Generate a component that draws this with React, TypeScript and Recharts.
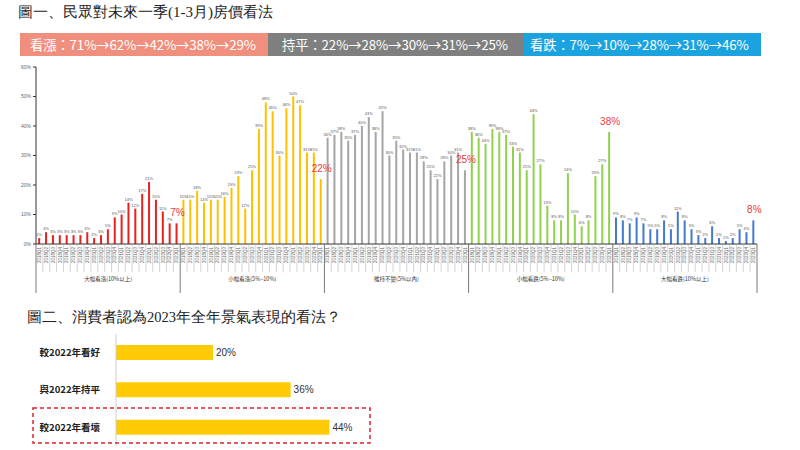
import React from 'react';
import { BarChart, Bar, XAxis, YAxis, Cell, LabelList } from 'recharts';

// ---------- data ----------
const groupNames = ['大幅看漲(10%以上)', '小幅看漲(5%~10%)', '維持不變(5%以內)', '小幅看跌(5%~10%)', '大幅看跌(10%以上)'];
const periods = [
  '2018Q1', '2018Q2', '2018Q3', '2018Q4', '2019Q1', '2019Q2', '2019Q3', '2019Q4',
  '2020Q1', '2020Q2', '2020Q3', '2020Q4', '2021Q1', '2021Q2', '2021Q3', '2021Q4',
  '2022Q1', '2022Q2', '2022Q3', '2022Q4', '2023Q1',
];
const bigRise = [2, 4, 3, 3, 3, 3, 3, 4, 2, 3, 5, 9, 10, 14, 12, 17, 21, 15, 11, 7, 7];
const smallRise = [15, 15, 18, 14, 15, 15, 16, 19, 23, 12, 25, 39, 48, 45, 30, 46, 50, 47, 31, 31, 22];
const flat = [36, 37, 38, 35, 37, 40, 43, 38, 45, 30, 35, 32, 31, 31, 28, 25, 22, 28, 30, 31, 25];
const smallFall = [38, 36, 34, 39, 38, 37, 33, 31, 25, 44, 27, 13, 8, 8, 24, 10, 6, 8, 23, 27, 38];
const bigFall = [9, 8, 7, 9, 7, 5, 5, 8, 5, 11, 8, 5, 3, 2, 6, 2, 1, 2, 5, 4, 8];
const groupValues = [bigRise, smallRise, flat, smallFall, bigFall];
const groupColors = ['#E8201E', '#FFC000', '#A5A5A5', '#92D050', '#4479CC'];

const riseTrend = [71, 62, 42, 38, 29];
const flatTrend = [22, 28, 30, 31, 25];
const fallTrend = [7, 10, 28, 31, 46];

const outlookLabels = ['較2022年看好', '與2022年持平', '較2022年看壞'];
const outlookValues = [20, 36, 44];

// ---------- derived tables ----------
const houseData = groupValues.flatMap((vals, g) =>
  vals.map((v, p) => ({ key: `${g}|${p}`, value: v, group: g, period: p }))
);
const outlookData = outlookLabels.map((label, i) => ({ label, value: outlookValues[i] }));

const CHART_W = 800;
const PLOT_LEFT = 36;
const RIGHT_MARGIN = 43;
const BAND = (CHART_W - PLOT_LEFT - RIGHT_MARGIN) / houseData.length;
const PER_GROUP = periods.length;

function PeriodTick(props: any) {
  const { x, y, payload } = props;
  const [gs, ps] = String(payload.value).split('|');
  const g = +gs;
  const p = +ps;
  const half = BAND / 2;
  const isLastAll = g === groupNames.length - 1 && p === PER_GROUP - 1;
  return (
    <g>
      <line x1={x - half} x2={x - half} y1={y} y2={y + (p === 0 ? 49 : 28)}
        stroke={p === 0 ? '#555' : '#aaa'} strokeWidth={p === 0 ? 0.8 : 0.5} />
      {isLastAll && (
        <line x1={x + half} x2={x + half} y1={y} y2={y + 49} stroke="#555" strokeWidth={0.8} />
      )}
      <text x={x} y={y + 3} transform={`rotate(-90 ${x} ${y + 3})`} textAnchor="end"
        dominantBaseline="central" fontSize={4.5} fill="#666" fontFamily="Liberation Sans">
        {periods[p]}
      </text>
      {p === Math.floor(PER_GROUP / 2) && (
        <text x={x} y={y + 37} textAnchor="middle" fontSize={5.5} fill="#333"
          fontFamily='"Noto Sans CJK TC"'>
          {groupNames[g]}
        </text>
      )}
    </g>
  );
}

function BarValueLabel(props: any) {
  const { x, y, width, value, index } = props;
  const isLast = index % PER_GROUP === PER_GROUP - 1;
  return (
    <text x={x + width / 2 + (isLast ? 1 : 0)} y={y - (isLast ? 7 : 2)} textAnchor="middle"
      fontSize={isLast ? 10 : 4} fill={isLast ? '#EE3B3B' : '#555'}
      fontFamily="Liberation Sans">
      {value}%
    </text>
  );
}

const trendText = (arr: number[]) => arr.map((v) => `${v}%`).join('→');

const bannerStyle: React.CSSProperties = {
  position: 'absolute', top: 33, height: 23, color: '#fff', fontSize: 13.3,
  letterSpacing: -0.1, lineHeight: '23px', boxSizing: 'border-box', whiteSpace: 'nowrap', overflow: 'hidden',
};

export default function App() {
  return (
    <div style={{ position: 'fixed', left: 0, top: 0, width: 800, height: 450, background: '#fff', overflow: 'hidden', fontFamily: '"Noto Sans CJK TC", sans-serif' }}>
      <div style={{ position: 'absolute', left: 18, top: 3, fontSize: 15, color: '#222', fontFamily: 'serif', whiteSpace: 'nowrap' }}>
        圖一、民眾對未來一季(1-3月)房價看法
      </div>
      {/* banner */}
      <div style={{ ...bannerStyle, left: 20, width: 248, background: '#F08F7D', paddingLeft: 10 }}>
        看漲：{trendText(riseTrend)}
      </div>
      <div style={{ ...bannerStyle, left: 268, width: 255, background: '#7F7F7F', paddingLeft: 14 }}>
        持平：{trendText(flatTrend)}
      </div>
      <div style={{ ...bannerStyle, left: 523, width: 238, background: '#1BA3E0', paddingLeft: 7 }}>
        看跌：{trendText(fallTrend)}
      </div>

      {/* top chart */}
      <div style={{ position: 'absolute', left: 0, top: 55 }}>
        <BarChart width={CHART_W} height={245} data={houseData}
          margin={{ top: 12, right: RIGHT_MARGIN, bottom: 0, left: 0 }} barCategoryGap="32%">
          <XAxis dataKey="key" interval={0} height={56} tick={<PeriodTick />} tickLine={false}
            tickSize={0} tickMargin={0} axisLine={{ stroke: '#333' }} />
          <YAxis domain={[0, 60]} ticks={[0, 10, 20, 30, 40, 50, 60]} tickFormatter={(v) => `${v}%`}
            width={PLOT_LEFT} tick={{ fontSize: 5, fill: '#666', fontFamily: 'Liberation Sans' }}
            axisLine={{ stroke: '#333' }} tickLine={{ stroke: '#333' }} tickSize={3} tickMargin={2} />
          <Bar dataKey="value" isAnimationActive={false}>
            {houseData.map((d) => (
              <Cell key={d.key} fill={groupColors[d.group]} />
            ))}
            <LabelList dataKey="value" content={<BarValueLabel />} />
          </Bar>
        </BarChart>
      </div>

      <div style={{ position: 'absolute', left: 27, top: 308, fontSize: 14.5, color: '#222', fontFamily: 'serif', whiteSpace: 'nowrap' }}>
        圖二、消費者認為2023年全年景氣表現的看法？
      </div>

      {/* bottom chart */}
      <div style={{ position: 'absolute', left: 0, top: 330 }}>
        <BarChart layout="vertical" width={CHART_W} height={120} data={outlookData}
          margin={{ top: 4, right: 199, bottom: 4, left: 0 }}>
          <XAxis type="number" domain={[0, 100]} hide />
          <YAxis type="category" dataKey="label" width={116} axisLine={{ stroke: '#d0d0d0' }}
            tickLine={false} tickMargin={10}
            tick={{ fontSize: 9.5, fill: '#222', fontWeight: 600 }} />
          <Bar dataKey="value" fill="#FFCB05" barSize={15} isAnimationActive={false}>
            <LabelList dataKey="value" position="right" offset={3}
              formatter={(v: any) => `${v}%`}
              style={{ fontSize: 10, fill: '#333', fontFamily: 'Liberation Sans' }} />
          </Bar>
        </BarChart>
      </div>

      <svg width={800} height={450} style={{ position: 'absolute', left: 0, top: 0, pointerEvents: 'none' }}>
        <rect x={33} y={408} width={337} height={35} fill="none" stroke="#D9262B" strokeWidth={1.5} strokeDasharray="4 3" />
      </svg>
    </div>
  );
}
